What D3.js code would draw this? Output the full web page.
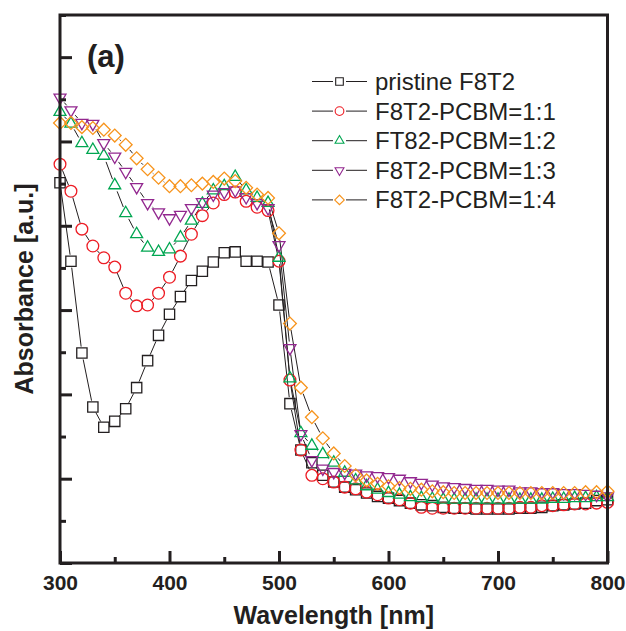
<!DOCTYPE html>
<html>
<head>
<meta charset="utf-8">
<script src="https://cdn.jsdelivr.net/npm/d3@7.9.0/dist/d3.min.js"></script>
<style>
  body { margin: 0; background: #fff; }
  svg { display: block; font-family: "Liberation Sans", Arial, Helvetica, sans-serif; }
</style>
</head>
<body>
<svg id="chart"></svg>
<script>
// wavelengths in nm, one point every 10 nm
const wavelength = [300, 310, 320, 330, 340, 350, 360, 370, 380, 390, 400, 410, 420, 430, 440, 450, 460, 470, 480, 490,
  500, 510, 520, 530, 540, 550, 560, 570, 580, 590, 600, 610, 620, 630, 640, 650, 660, 670, 680, 690,
  700, 710, 720, 730, 740, 750, 760, 770, 780, 790, 800];

// absorbance (arbitrary units)
const pristine = [4.51, 3.58, 2.49, 1.85, 1.61, 1.68, 1.83, 2.08, 2.40, 2.70, 2.95, 3.16, 3.35, 3.46, 3.57, 3.68, 3.69, 3.58, 3.58, 3.57,
  3.06, 1.89, 1.34, 1.19, 1.04, 0.96, 0.90, 0.87, 0.83, 0.79, 0.77, 0.74, 0.71, 0.69, 0.68, 0.66, 0.65, 0.65, 0.64, 0.64,
  0.64, 0.64, 0.65, 0.65, 0.66, 0.68, 0.69, 0.70, 0.71, 0.74, 0.75];
const ratio11 = [4.73, 4.41, 3.96, 3.76, 3.62, 3.51, 3.20, 3.05, 3.06, 3.20, 3.39, 3.64, 3.90, 4.12, 4.27, 4.37, 4.40, 4.29, 4.22, 4.18,
  3.58, 2.17, 1.34, 1.04, 1.00, 0.96, 0.90, 0.88, 0.84, 0.81, 0.77, 0.75, 0.71, 0.66, 0.65, 0.65, 0.65, 0.65, 0.65, 0.65,
  0.65, 0.65, 0.66, 0.66, 0.68, 0.68, 0.69, 0.70, 0.70, 0.71, 0.72];
const ratio12 = [5.35, 5.21, 4.98, 4.90, 4.83, 4.48, 4.15, 3.90, 3.74, 3.69, 3.72, 3.86, 4.06, 4.26, 4.42, 4.47, 4.58, 4.42, 4.33, 4.27,
  3.62, 2.19, 1.54, 1.39, 1.29, 1.19, 1.07, 0.98, 0.91, 0.87, 0.83, 0.81, 0.78, 0.77, 0.76, 0.75, 0.75, 0.75, 0.75, 0.75,
  0.75, 0.75, 0.75, 0.75, 0.75, 0.76, 0.76, 0.77, 0.77, 0.78, 0.78];
const ratio13 = [5.52, 5.37, 5.22, 5.21, 4.98, 4.82, 4.64, 4.46, 4.27, 4.16, 4.09, 4.13, 4.21, 4.28, 4.37, 4.40, 4.42, 4.34, 4.27, 4.21,
  3.77, 2.55, 1.53, 1.22, 1.12, 1.08, 1.07, 1.06, 1.04, 1.03, 1.02, 1.00, 0.97, 0.95, 0.93, 0.91, 0.90, 0.89, 0.88, 0.88,
  0.87, 0.87, 0.85, 0.85, 0.84, 0.84, 0.83, 0.83, 0.82, 0.81, 0.79];
const ratio14 = [5.22, 5.22, 5.17, 5.16, 5.14, 5.07, 4.96, 4.80, 4.67, 4.57, 4.47, 4.47, 4.48, 4.50, 4.52, 4.56, 4.53, 4.45, 4.37, 4.33,
  3.91, 2.84, 2.08, 1.73, 1.48, 1.30, 1.15, 1.04, 0.98, 0.94, 0.91, 0.89, 0.88, 0.87, 0.85, 0.84, 0.83, 0.83, 0.83, 0.83,
  0.83, 0.83, 0.83, 0.83, 0.83, 0.83, 0.83, 0.83, 0.84, 0.84, 0.85];

const seriesNames = ['pristine F8T2', 'F8T2-PCBM=1:1', 'FT82-PCBM=1:2', 'F8T2-PCBM=1:3', 'F8T2-PCBM=1:4'];
const seriesValues = [pristine, ratio11, ratio12, ratio13, ratio14];
const seriesColors = ['#231f20', '#ed1c24', '#00a651', '#92278f', '#f7941d'];

const xMajorTicks = [300, 400, 500, 600, 700, 800];
const xMinorTicks = [350, 450, 550, 650, 750];
const yMajorTicks = [0, 1, 2, 3, 4, 5, 6];
const yMinorTicks = [0.5, 1.5, 2.5, 3.5, 4.5, 5.5, 6.5];

const width = 626;
const height = 631;
const margin = { top: 15, right: 18.5, bottom: 68, left: 60 };
const ink = '#231f20';

const svg = d3.select('#chart').attr('width', width).attr('height', height);

const xScale = d3.scaleLinear()
  .domain([300, 800])
  .range([margin.left, width - margin.right]);

const yScale = d3.scaleLinear()
  .domain([0, 6.5])
  .range([height - margin.bottom, margin.top]);

// marker shapes, one per series
const markers = [
  { type: d3.symbolSquare, size: 106, rotate: 0 },
  { type: d3.symbolCircle, size: 108, rotate: 0 },
  { type: d3.symbolTriangle, size: 62, rotate: 0 },
  { type: d3.symbolTriangle, size: 62, rotate: 180 },
  { type: d3.symbolSquare, size: 82, rotate: 45 },
];

// connecting lines, with a gap at each symbol like Origin draws them
const gap = 6.5;
seriesValues.forEach((values, s) => {
  const pts = values.map((v, i) => [xScale(wavelength[i]), yScale(v)]);
  const segs = [];
  for (let i = 0; i < pts.length - 1; i++) {
    const [x1, y1] = pts[i];
    const [x2, y2] = pts[i + 1];
    const len = Math.hypot(x2 - x1, y2 - y1);
    if (len <= 2 * gap) continue;
    const ux = (x2 - x1) / len;
    const uy = (y2 - y1) / len;
    segs.push([x1 + ux * gap, y1 + uy * gap, x2 - ux * gap, y2 - uy * gap]);
  }
  svg.append('g')
    .selectAll('line')
    .data(segs)
    .join('line')
    .attr('x1', (d) => d[0])
    .attr('y1', (d) => d[1])
    .attr('x2', (d) => d[2])
    .attr('y2', (d) => d[3])
    .attr('stroke', ink)
    .attr('stroke-width', 1);
});

// symbols
seriesValues.forEach((values, s) => {
  const m = markers[s];
  const path = d3.symbol().type(m.type).size(m.size)();
  svg.append('g')
    .selectAll('path')
    .data(values)
    .join('path')
    .attr('d', path)
    .attr('transform', (d, i) => `translate(${xScale(wavelength[i])},${yScale(d)}) rotate(${m.rotate})`)
    .attr('fill', 'none')
    .attr('stroke', seriesColors[s])
    .attr('stroke-width', 1.3);
});

// axes: ticks point inward
const xAxis = d3.axisBottom(xScale).tickValues(xMajorTicks).tickSize(-12).tickPadding(12).tickFormat(d3.format('d'));
const xMinor = d3.axisBottom(xScale).tickValues(xMinorTicks).tickSize(-6).tickFormat('');
const yAxis = d3.axisLeft(yScale).tickValues(yMajorTicks).tickSize(-12).tickFormat('');
const yMinor = d3.axisLeft(yScale).tickValues(yMinorTicks).tickSize(-6).tickFormat('');

function styleAxis(g) {
  g.select('.domain').remove();
  g.selectAll('.tick line').attr('stroke', ink).attr('stroke-width', 3);
  g.selectAll('.tick text')
    .attr('fill', ink)
    .style('font-size', '21px')
    .style('font-weight', 'bold')
    .style('font-family', '"Liberation Sans", Arial, sans-serif');
}

svg.append('g').attr('transform', `translate(0, ${height - margin.bottom})`).call(xAxis).call(styleAxis);
svg.append('g').attr('transform', `translate(0, ${height - margin.bottom})`).call(xMinor).call(styleAxis);
svg.append('g').attr('transform', `translate(${margin.left}, 0)`).call(yAxis).call(styleAxis);
svg.append('g').attr('transform', `translate(${margin.left}, 0)`).call(yMinor).call(styleAxis);

// frame
svg.append('rect')
  .attr('x', margin.left)
  .attr('y', margin.top)
  .attr('width', width - margin.left - margin.right)
  .attr('height', height - margin.top - margin.bottom)
  .attr('fill', 'none')
  .attr('stroke', ink)
  .attr('stroke-width', 3);

// axis titles
svg.append('text')
  .attr('x', (margin.left + width - margin.right) / 2)
  .attr('y', 624)
  .attr('text-anchor', 'middle')
  .attr('fill', ink)
  .style('font-size', '25px')
  .style('font-weight', 'bold')
  .text('Wavelength [nm]');

svg.append('text')
  .attr('transform', `translate(33, ${(margin.top + height - margin.bottom) / 2}) rotate(-90)`)
  .attr('text-anchor', 'middle')
  .attr('fill', ink)
  .style('font-size', '25px')
  .style('font-weight', 'bold')
  .text('Absorbance [a.u.]');

// panel label
svg.append('text')
  .attr('x', 87)
  .attr('y', 67)
  .attr('fill', ink)
  .style('font-size', '31px')
  .style('font-weight', 'bold')
  .text('(a)');

// legend
const legend = svg.append('g').attr('transform', 'translate(312, 81.5)');
seriesNames.forEach((name, s) => {
  const row = legend.append('g').attr('transform', `translate(0, ${s * 29.6})`);
  row.append('line').attr('x1', 0).attr('x2', 21).attr('stroke', ink).attr('stroke-width', 1);
  row.append('line').attr('x1', 34).attr('x2', 55).attr('stroke', ink).attr('stroke-width', 1);
  const m = markers[s];
  row.append('path')
    .attr('d', d3.symbol().type(m.type).size(m.size * 0.55)())
    .attr('transform', `translate(27.5, 0) rotate(${m.rotate})`)
    .attr('fill', 'none')
    .attr('stroke', seriesColors[s])
    .attr('stroke-width', 1.1);
  row.append('text')
    .attr('x', 63)
    .attr('dy', '0.35em')
    .attr('fill', ink)
    .style('font-size', '24px')
    .text(name);
});
</script>
</body>
</html>
